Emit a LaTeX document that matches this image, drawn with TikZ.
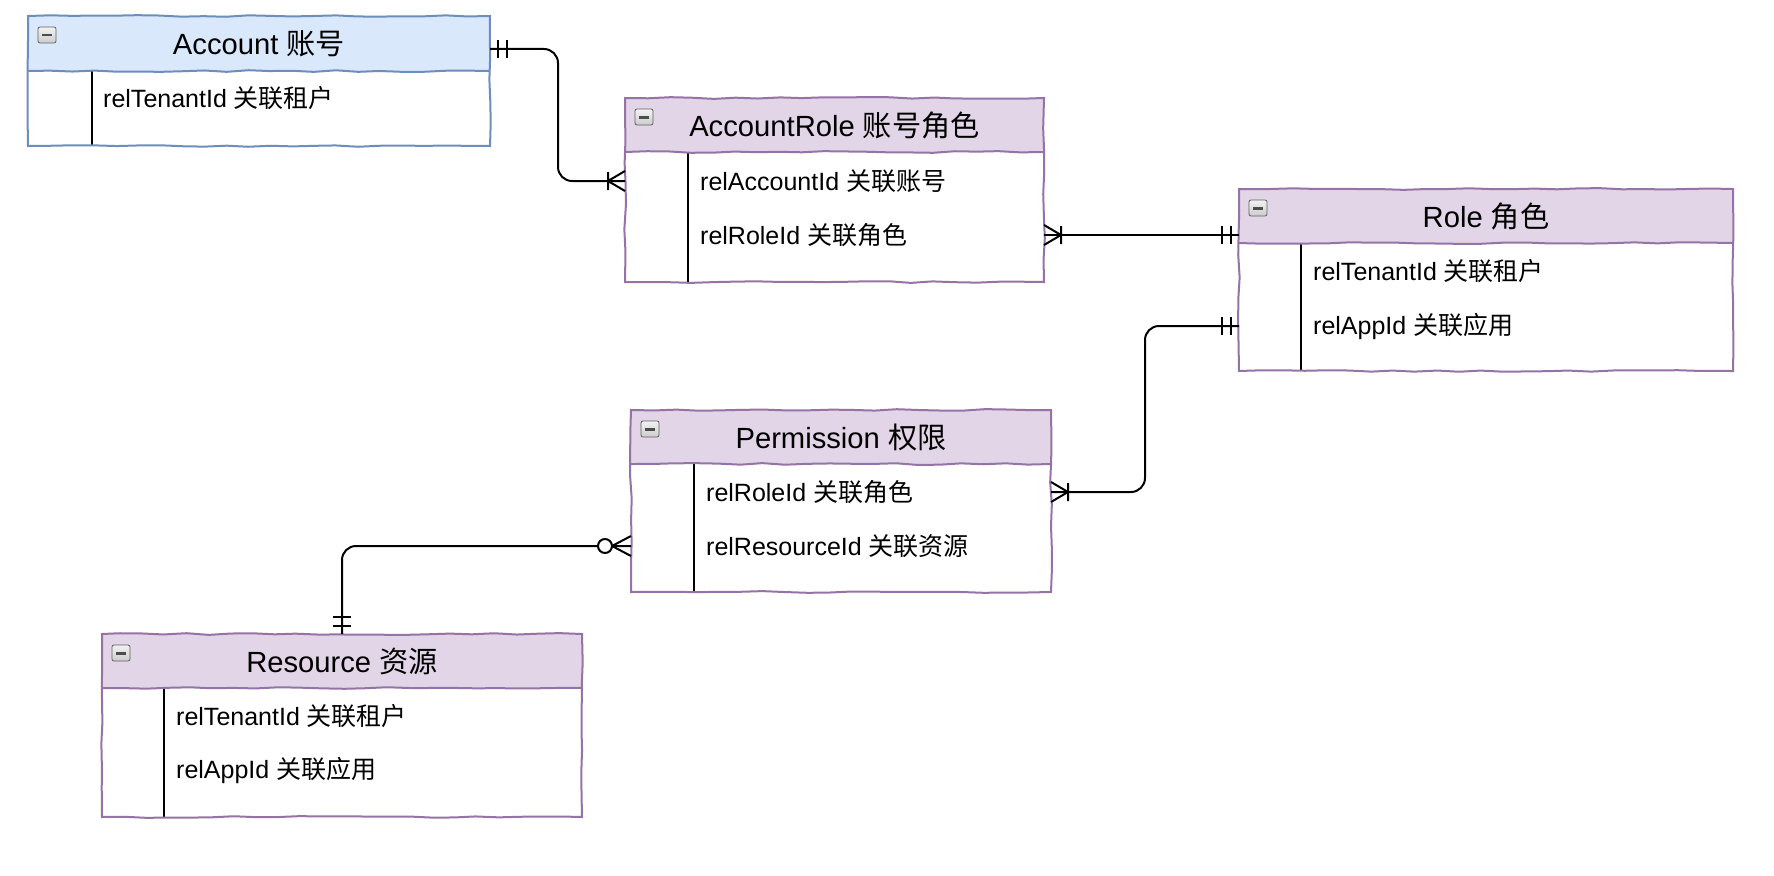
\documentclass[tikz,border=0pt]{standalone}
\usepackage{fontspec}
\setmainfont{Liberation Sans}
\newfontfamily\cjk{Noto Sans CJK SC}
\newcommand\zh[1]{{\cjk #1}}
\usetikzlibrary{calc,decorations.pathmorphing}
\definecolor{bluefill}{HTML}{DAE8FC}
\definecolor{blueline}{HTML}{6C8EBF}
\definecolor{purpfill}{HTML}{E1D5E7}
\definecolor{purpline}{HTML}{9673A6}
\tikzset{
  cell/.style={rectangle, inner sep=0pt, outer sep=0pt},
  sketch/.style={line width=2pt, line join=miter, decorate, decoration={random steps, segment length=22pt, amplitude=0.9pt}},
  divider/.style={line width=2pt, black},
  ttl/.style={inner sep=0pt, font=\fontsize{29.2}{35}\selectfont},
  rowtxt/.style={inner sep=0pt, anchor=west, font=\fontsize{25}{30}\selectfont},
  conn/.style={line width=2pt, black, rounded corners=14pt},
  mk/.style={line width=2pt, black},
  pics/mone/.style={code={\draw[mk] (8,-9)--(8,9) (17,-9)--(17,9);}},
  pics/omany/.style={code={\draw[mk] (0,-10)--(17,0)--(0,10) (17,-9)--(17,9);}},
  pics/zmany/.style={code={\draw[mk] (0,-10)--(19,0)--(0,10); \draw[mk, fill=white] (26,0) circle (7pt);}},
}
% #1 name, #2 x1, #3 y1, #4 x2, #5 yh, #6 y2, #7 xd, #8 fill, #9 border
\newcommand\ertbl[9]{%
  \node[cell, fill=#8, minimum width={(#4-#2)*1pt}, minimum height={(#5-#3)*1pt}] (#1-h) at ({(#2+#4)/2},{(#3+#5)/2}) {};
  \node[cell, fill=white, minimum width={(#4-#2)*1pt}, minimum height={(#6-#5)*1pt}] (#1-b) at ({(#2+#4)/2},{(#5+#6)/2}) {};
  \draw[divider] (#7,#5) -- (#7,#6);
  \draw[sketch, draw=#9] (#1-h.north west) rectangle (#1-b.south east);
  \draw[sketch, draw=#9] (#1-h.south west) -- (#1-h.south east);
  \draw[gray!75!black, top color=gray!10, bottom color=gray!40, rounded corners=2pt, line width=0.8pt] ($(#1-h.north west)+(10,11)$) rectangle ($(#1-h.north west)+(28,27)$);
  \fill[black!70] ($(#1-h.north west)+(14,18)$) rectangle ($(#1-h.north west)+(24,20.5)$);
}
\begin{document}
\begin{tikzpicture}[x=1pt, y=-1pt]
\pgfmathsetseed{11}
\useasboundingbox (0,0) rectangle (1774,875);
\fill[white] (0,0) rectangle (1774,875);

% tables
\ertbl{acc}{28}{16}{490}{71}{146}{92}{bluefill}{blueline}
\ertbl{acr}{625}{98}{1044}{152}{282}{688}{purpfill}{purpline}
\ertbl{rol}{1239}{189}{1733}{243}{371}{1301}{purpfill}{purpline}
\ertbl{per}{631}{410}{1051}{464}{592}{694}{purpfill}{purpline}
\ertbl{res}{102}{634}{582}{688}{817}{164}{purpfill}{purpline}

% titles
\node[ttl] (acc-t) at (acc-h.center) {Account \zh{账号}};
\node[ttl] (acr-t) at (acr-h.center) {AccountRole \zh{账号角色}};
\node[ttl] (rol-t) at (rol-h.center) {Role \zh{角色}};
\node[ttl] (per-t) at (per-h.center) {Permission \zh{权限}};
\node[ttl] (res-t) at (res-h.center) {Resource \zh{资源}};

% rows
\node[rowtxt] (acc-r1) at (103,98) {relTenantId \zh{关联租户}};
\node[rowtxt] (acr-r1) at (700,181) {relAccountId \zh{关联账号}};
\node[rowtxt] (acr-r2) at (700,235) {relRoleId \zh{关联角色}};
\node[rowtxt] (rol-r1) at (1313,271) {relTenantId \zh{关联租户}};
\node[rowtxt] (rol-r2) at (1313,326) {relAppId \zh{关联应用}};
\node[rowtxt] (per-r1) at (706,492) {relRoleId \zh{关联角色}};
\node[rowtxt] (per-r2) at (706,546) {relResourceId \zh{关联资源}};
\node[rowtxt] (res-r1) at (176,716) {relTenantId \zh{关联租户}};
\node[rowtxt] (res-r2) at (176,770) {relAppId \zh{关联应用}};

% connectors
\coordinate (c1s) at ($(acc-h.south east)+(0,-22)$);
\coordinate (c1e) at (acr-r1 -| acr-b.west);
\draw[conn] (c1s) -- ++(68,0) |- (c1e);
\pic[rotate=0] at (c1s) {mone};
\pic[rotate=180] at (c1e) {omany};

\coordinate (c2s) at (acr-r2 -| acr-b.east);
\coordinate (c2e) at (acr-r2 -| rol-b.west);
\draw[conn] (c2s) -- (c2e);
\pic[rotate=0] at (c2s) {omany};
\pic[rotate=180] at (c2e) {mone};

\coordinate (c3s) at (rol-r2 -| rol-b.west);
\coordinate (c3e) at (per-r1 -| per-b.east);
\draw[conn] (c3s) -- ++(-94,0) |- (c3e);
\pic[rotate=180] at (c3s) {mone};
\pic[rotate=0] at (c3e) {omany};

\coordinate (c4s) at (per-r2 -| per-b.west);
\coordinate (c4e) at (res-h.north);
\draw[conn] (c4s) -| (c4e);
\pic[rotate=180] at (c4s) {zmany};
\pic[rotate=90] at (c4e) {mone};
\end{tikzpicture}
\end{document}
